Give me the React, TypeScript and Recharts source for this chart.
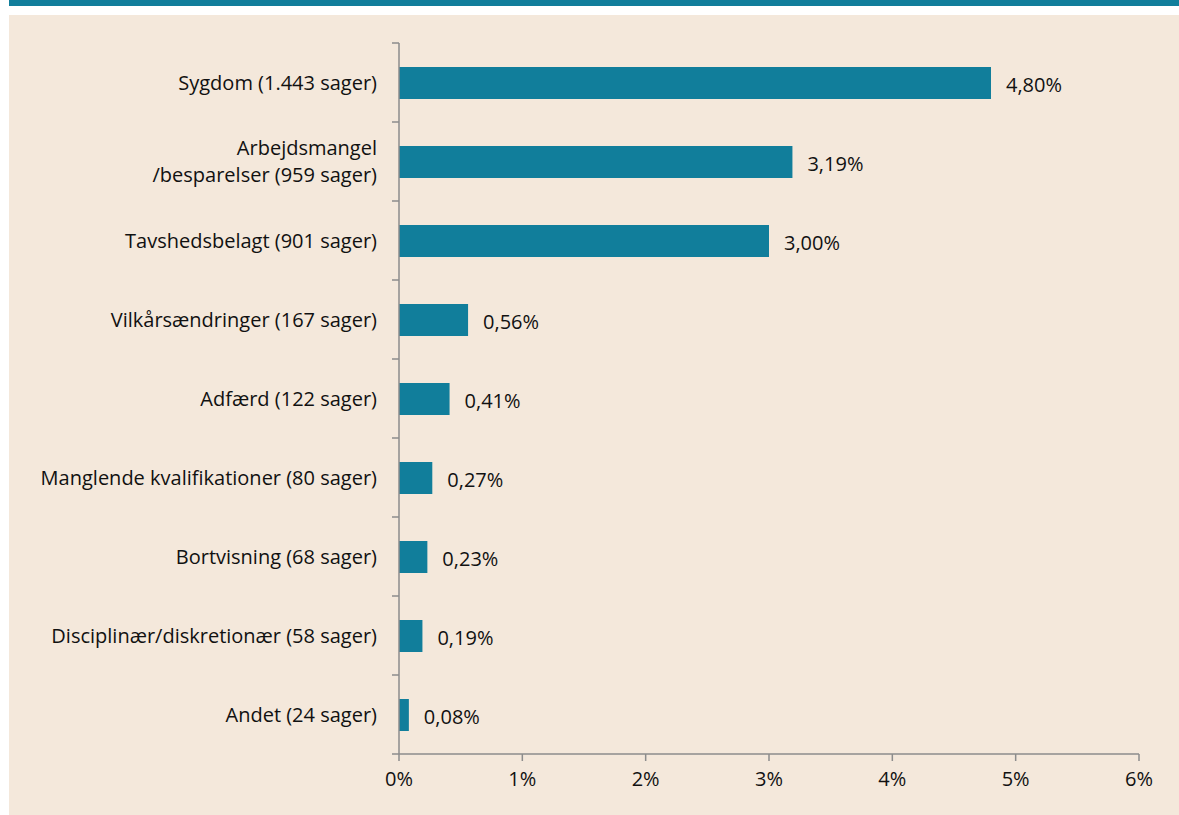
import React from 'react';
import { BarChart, Bar, XAxis, YAxis, LabelList } from 'recharts';

const categories = [
  'Sygdom (1.443 sager)',
  'Arbejdsmangel\n/besparelser (959 sager)',
  'Tavshedsbelagt (901 sager)',
  'Vilkårsændringer (167 sager)',
  'Adfærd (122 sager)',
  'Manglende kvalifikationer (80 sager)',
  'Bortvisning (68 sager)',
  'Disciplinær/diskretionær (58 sager)',
  'Andet (24 sager)',
];
const values = [4.8, 3.19, 3.0, 0.56, 0.41, 0.27, 0.23, 0.19, 0.08];
const xTicks = [0, 1, 2, 3, 4, 5, 6];

const data = categories.map((c, i) => ({ name: c, value: values[i] }));

const FONT = '"Open Sans", sans-serif';
const FS = 20;
const TEAL = '#117E9B';
const AXIS = '#8C8C8C';
const TXT = '#111111';

const YTick = (props: any) => {
  const { x, y, payload, index } = props;
  const half = payload && typeof payload.offset === 'number' && payload.offset > 0 ? payload.offset : 39.5;
  const axisX = x + 22;
  const lines = String(payload.value).split('\n');
  const n = lines.length;
  return (
    <g>
      <line x1={axisX - 7} x2={axisX} y1={y - half} y2={y - half} stroke={AXIS} strokeWidth={1.5} />
      {index === categories.length - 1 && (
        <line x1={axisX - 7} x2={axisX} y1={y + half} y2={y + half} stroke={AXIS} strokeWidth={1.5} />
      )}
      <text x={x} y={y} textAnchor="end" fontFamily={FONT} fontSize={FS} fill={TXT}>
        {lines.map((l, i) => (
          <tspan key={i} x={x} dy={i === 0 ? 7 - ((n - 1) / 2) * 27.5 : 27.5}>
            {l}
          </tspan>
        ))}
      </text>
    </g>
  );
};

export default function App() {
  return (
    <div style={{ position: 'absolute', left: 0, top: 0, width: 1179, height: 815, background: '#ffffff' }}>
      <div style={{ position: 'absolute', left: 9, top: 0, width: 1170, height: 6, background: TEAL }} />
      <div style={{ position: 'absolute', left: 9, top: 15, width: 1170, height: 800, background: '#F4E8DB' }} />
      <div style={{ position: 'absolute', left: 0, top: 0 }}>
        <BarChart
          width={1179}
          height={815}
          data={data}
          layout="vertical"
          margin={{ top: 43, right: 40, bottom: 21, left: 9 }}
          barCategoryGap={0}
        >
          <XAxis
            type="number"
            domain={[0, 6]}
            ticks={xTicks}
            tickFormatter={(v: number) => `${v}%`}
            stroke={AXIS}
            strokeWidth={1.5}
            tickSize={7}
            tickMargin={11}
            height={40}
            tick={{ fill: TXT, fontFamily: FONT, fontSize: FS }}
            interval={0}
          />
          <YAxis
            type="category"
            dataKey="name"
            width={390}
            stroke={AXIS}
            strokeWidth={1.5}
            tickLine={false}
            tickSize={7}
            tickMargin={15}
            interval={0}
            tick={<YTick />}
          />
          <Bar dataKey="value" fill={TEAL} barSize={32} isAnimationActive={false}>
            <LabelList
              dataKey="value"
              position="right"
              offset={15}
              dy={2}
              formatter={(v: number) => `${v.toFixed(2).replace('.', ',')}%`}
              style={{ fill: TXT, fontFamily: FONT, fontSize: FS }}
            />
          </Bar>
        </BarChart>
      </div>
    </div>
  );
}
